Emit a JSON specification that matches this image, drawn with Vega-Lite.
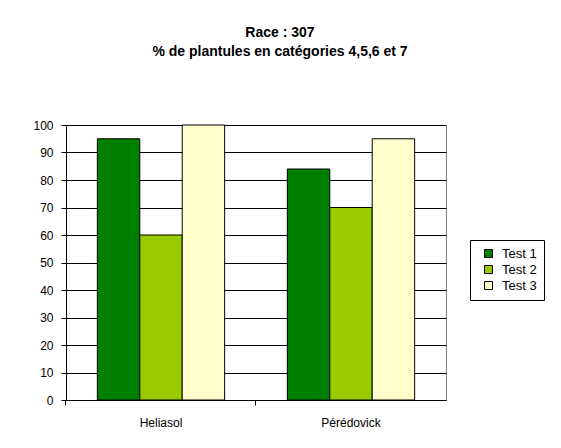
{
  "$schema": "https://vega.github.io/schema/vega-lite/v6.json",
  "autosize": "none",
  "width": 380,
  "height": 275,
  "padding": {"left": 66, "top": 125, "right": 115, "bottom": 48},
  "background": "white",
  "title": {
    "text": ["Race : 307", "% de plantules en catégories 4,5,6 et 7"],
    "font": "Liberation Sans",
    "fontSize": 14,
    "fontWeight": "bold",
    "lineHeight": 19,
    "anchor": "middle",
    "dx": 24,
    "offset": 60,
    "color": "black"
  },
  "data": {
    "values": [
      {"variete": "Heliasol", "test": "Test 1", "pct": 95},
      {"variete": "Heliasol", "test": "Test 2", "pct": 60},
      {"variete": "Heliasol", "test": "Test 3", "pct": 100},
      {"variete": "Pérédovick", "test": "Test 1", "pct": 84},
      {"variete": "Pérédovick", "test": "Test 2", "pct": 70},
      {"variete": "Pérédovick", "test": "Test 3", "pct": 95}
    ]
  },
  "mark": {"type": "bar", "stroke": "black", "strokeWidth": 1},
  "encoding": {
    "x": {
      "field": "variete",
      "type": "nominal",
      "sort": ["Heliasol", "Pérédovick"],
      "scale": {"paddingInner": 0.33, "paddingOuter": 0.165},
      "axis": {
        "title": null,
        "labelAngle": 0,
        "bandPosition": -0.248,
        "labelFont": "Liberation Sans",
        "labelFontSize": 12,
        "labelColor": "black",
        "labelPadding": 12,
        "domainColor": "black",
        "tickColor": "black",
        "tickSize": 5,
        "grid": false
      }
    },
    "xOffset": {"field": "test", "type": "nominal", "scale": {"paddingInner": 0, "paddingOuter": 0}},
    "y": {
      "field": "pct",
      "type": "quantitative",
      "scale": {"domain": [0, 100], "nice": false},
      "axis": {
        "title": null,
        "values": [0, 10, 20, 30, 40, 50, 60, 70, 80, 90, 100],
        "labelFont": "Liberation Sans",
        "labelFontSize": 12,
        "labelColor": "black",
        "labelPadding": 8,
        "domainColor": "black",
        "tickColor": "black",
        "tickSize": 5,
        "grid": true,
        "gridColor": "black",
        "gridOpacity": 1
      }
    },
    "color": {
      "field": "test",
      "type": "nominal",
      "scale": {"domain": ["Test 1", "Test 2", "Test 3"], "range": ["#008000", "#99CC00", "#FFFFCC"]},
      "legend": {
        "title": null,
        "orient": "none",
        "legendX": 404,
        "legendY": 115,
        "strokeColor": "black",
        "fillColor": "white",
        "padding": 7,
        "symbolType": "square",
        "symbolSize": 64,
        "symbolStrokeColor": "black",
        "symbolStrokeWidth": 1,
        "symbolOffset": 5,
        "labelFont": "Liberation Sans",
        "labelFontSize": 13,
        "labelColor": "black",
        "labelOffset": 7,
        "rowPadding": 2
      }
    }
  },
  "config": {
    "view": {"stroke": "#808080", "strokeWidth": 1}
  }
}
